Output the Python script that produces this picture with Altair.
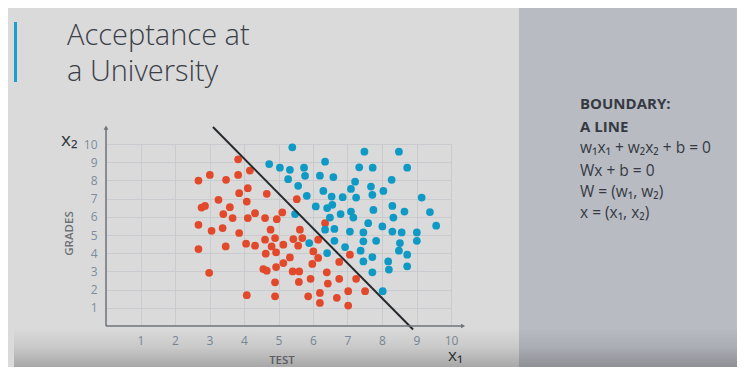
import altair as alt
import pandas as pd

# ---- data ----
red_x = [3.83, 4.17, 3.01, 2.68, 3.48, 3.83, 4.11, 3.86, 4.66, 3.26, 4.08, 5.53, 2.87, 2.77, 3.59, 3.40,
         3.67, 4.32, 4.11, 4.61, 4.95, 5.11, 2.68, 3.06, 3.38, 3.86, 4.77, 5.62, 6.35, 4.90, 4.61, 5.43,
         5.69, 2.68, 3.47, 4.06, 4.32, 4.80, 5.14, 5.57, 4.63, 4.93, 5.33, 5.14, 4.93, 4.56, 4.66, 2.99,
         5.41, 5.60, 5.59, 4.90, 4.08, 4.90, 6.15, 6.01, 6.15, 7.07, 6.76, 5.98, 6.40, 6.43, 6.76, 5.93,
         7.25, 7.02, 7.51, 6.20, 5.86, 6.69, 6.20, 7.02]
red_y = [9.16, 8.54, 8.30, 7.99, 8.03, 8.30, 7.57, 7.30, 7.26, 6.93, 6.84, 6.97, 6.60, 6.51, 6.53, 6.15,
         5.93, 6.20, 5.93, 5.93, 5.87, 6.24, 5.56, 5.23, 5.38, 5.11, 5.29, 5.29, 5.65, 4.83, 4.74, 4.78,
         4.83, 4.23, 4.37, 4.52, 4.41, 4.37, 4.47, 4.41, 3.97, 4.04, 3.77, 3.46, 3.24, 3.13, 3.04, 2.92,
         3.00, 3.00, 2.42, 2.40, 1.69, 1.63, 4.74, 4.10, 3.74, 3.92, 3.52, 3.41, 2.95, 2.33, 2.59, 2.59,
         2.59, 1.91, 1.91, 1.82, 1.63, 1.55, 1.27, 1.12]
blue_x = [5.40, 4.73, 5.04, 5.33, 5.28, 5.57, 5.48, 7.49, 8.49, 6.35, 5.74, 7.34, 7.73, 8.73, 5.77, 6.20,
          6.59, 7.22, 8.28, 7.10, 7.68, 6.30, 8.04, 7.72, 7.25, 5.82, 6.54, 6.86, 9.15, 6.08, 6.41, 6.56,
          7.10, 7.75, 8.30, 8.65, 9.39, 6.49, 6.80, 7.17, 8.33, 9.57, 7.60, 8.01, 6.62, 6.35, 7.07, 7.46,
          8.30, 8.57, 9.01, 7.46, 8.52, 9.01, 5.89, 6.62, 7.83, 6.93, 7.38, 8.49, 6.41, 8.73, 7.46, 7.72,
          8.18, 8.20, 8.73, 7.72, 8.02]
blue_y = [9.82, 8.90, 8.70, 8.58, 8.07, 7.70, 6.15, 9.58, 9.58, 9.03, 8.70, 8.72, 8.70, 8.70, 8.25, 8.26,
          8.18, 7.93, 8.03, 7.53, 7.66, 7.42, 7.42, 7.21, 7.06, 7.15, 7.11, 7.08, 7.06, 6.57, 6.48, 6.66,
          6.29, 6.38, 6.60, 6.29, 6.26, 5.96, 6.15, 5.96, 5.96, 5.51, 5.65, 5.47, 5.33, 5.29, 5.19, 5.14,
          5.19, 5.14, 5.14, 4.65, 4.56, 4.68, 4.56, 4.68, 4.68, 4.34, 4.14, 4.14, 4.01, 3.92, 3.55, 3.79,
          3.55, 3.10, 3.28, 2.95, 1.91]
boundary_x = [3.10, 8.90]
boundary_y = [10.93, -0.19]
tick_values = [1, 2, 3, 4, 5, 6, 7, 8, 9, 10]
axis_end_x = 10.35
axis_end_y = 10.9

title_lines = ["Acceptance at", "a University"]
side_heads = ["BOUNDARY:", "A LINE"]
side_eqs = ["w\u2081x\u2081 + w\u2082x\u2082 + b = 0", "Wx + b = 0", "W = (w\u2081, w\u2082)", "x = (x\u2081, x\u2082)"]

# ---- styling ----
RED = "#e2492b"
BLUE = "#0f9ac6"
BG = "#dadada"
PANEL = "#b8bbc2"
DARK = "#353a42"
AXIS = "#6e7279"
TICKLAB = "#7d8c9c"
FONT = "Open Sans, DejaVu Sans"
W, H = 345, 182

xs = alt.Scale(domain=[0, 10], nice=False, zero=False)
ys = alt.Scale(domain=[0, 10], nice=False, zero=False)

pts = pd.DataFrame({
    "x": red_x + blue_x,
    "y": red_y + blue_y,
    "group": ["rejected"] * len(red_x) + ["accepted"] * len(blue_x),
})

one = pd.DataFrame({"k": [0]})

def txt(s, x, y, size, color=DARK, weight="normal", align="left", angle=0, baseline="alphabetic"):
    return alt.Chart(one).mark_text(
        text=s, font=FONT, fontSize=size, color=color, fontWeight=weight,
        align=align, angle=angle, baseline=baseline
    ).encode(x=alt.value(x), y=alt.value(y))

def rect(x, x2, y, y2, color):
    return alt.Chart(one).mark_rect(color=color).encode(
        x=alt.value(x), x2=alt.value(x2), y=alt.value(y), y2=alt.value(y2))

panel = rect(413, 650, -150, 240, PANEL)
bar = rect(-92, -89, -122, -62, "#1b9fd0")

axis_common = dict(
    values=tick_values, tickCount=20, format="d", grid=True, gridColor="#cacbce", gridWidth=1,
    domain=False, ticks=False, labelColor=TICKLAB, labelFont=FONT, labelFontSize=12, labelPadding=9,
    labelOverlap=False, title=None)

points = alt.Chart(pts).mark_circle(size=60, opacity=1).encode(
    x=alt.X("x:Q", scale=xs, axis=alt.Axis(labelFlush=False, **axis_common)),
    y=alt.Y("y:Q", scale=ys, axis=alt.Axis(**axis_common)),
    color=alt.Color("group:N", scale=alt.Scale(domain=["rejected", "accepted"], range=[RED, BLUE]),
                    legend=None),
)

line = alt.Chart(pd.DataFrame({"x": boundary_x, "y": boundary_y})).mark_line(
    color="#25282d", strokeWidth=2).encode(
    x=alt.X("x:Q", scale=xs), y=alt.Y("y:Q", scale=ys))

xaxis = alt.Chart(pd.DataFrame({"x": [0], "x2": [axis_end_x], "y": [0]})).mark_rule(
    color=AXIS, strokeWidth=1.5).encode(x=alt.X("x:Q", scale=xs), x2="x2:Q", y=alt.Y("y:Q", scale=ys))
yaxis = alt.Chart(pd.DataFrame({"x": [0], "y": [0], "y2": [axis_end_y]})).mark_rule(
    color=AXIS, strokeWidth=1.5).encode(x=alt.X("x:Q", scale=xs), y=alt.Y("y:Q", scale=ys), y2="y2:Q")
arrow_r = alt.Chart(pd.DataFrame({"x": [axis_end_x], "y": [0]})).mark_point(
    shape="triangle-right", filled=True, size=22, color=AXIS, opacity=1).encode(
    x=alt.X("x:Q", scale=xs), y=alt.Y("y:Q", scale=ys))
arrow_u = alt.Chart(pd.DataFrame({"x": [0], "y": [axis_end_y]})).mark_point(
    shape="triangle-up", filled=True, size=22, color=AXIS, opacity=1).encode(
    x=alt.X("x:Q", scale=xs), y=alt.Y("y:Q", scale=ys))

texts = [
    txt(title_lines[0], -39, -99, 29, color="#3a3f47", weight=300),
    txt(title_lines[1], -39, -63, 29, color="#3a3f47", weight=300),
    txt(side_heads[0], 474, -35, 15, weight="bold"),
    txt(side_heads[1], 474, -12, 15, weight="bold"),
    txt(side_eqs[0], 474, 9, 15.5),
    txt(side_eqs[1], 474, 32, 15.5),
    txt(side_eqs[2], 474, 53, 15.5),
    txt(side_eqs[3], 474, 74, 15.5),
    txt("GRADES", -36, 89.5, 11.5, color="#6c7077", weight=600, align="center", angle=270, baseline="middle"),
    txt("TEST", 176, 216.5, 11.5, color="#6c7077", weight=600, align="center", baseline="middle"),
    txt("x\u2082", -45, 2, 19),
    txt("x\u2081", 342, 217, 17),
]

shade = alt.Chart(one).mark_rect(
    fill=alt.LinearGradient(
        gradient="linear",
        stops=[alt.GradientStop(color="rgba(0,0,0,0)", offset=0),
               alt.GradientStop(color="rgba(0,0,0,0.08)", offset=0.4),
               alt.GradientStop(color="rgba(0,0,0,0.30)", offset=1)],
        x1=0, x2=0, y1=0, y2=1)
).encode(x=alt.value(-92), x2=alt.value(650), y=alt.value(184), y2=alt.value(232))

chart = alt.layer(
    panel, bar, points, line, xaxis, yaxis, arrow_r, arrow_u, *texts, shade
).properties(
    width=W, height=H,
    autosize=alt.AutoSizeParams(type="none"),
    padding={"left": 98, "top": 136, "right": 286, "bottom": 41},
    background=BG,
).configure_view(stroke=None)

chart.save("out.html", embed_options={"renderer": "svg", "actions": False})
